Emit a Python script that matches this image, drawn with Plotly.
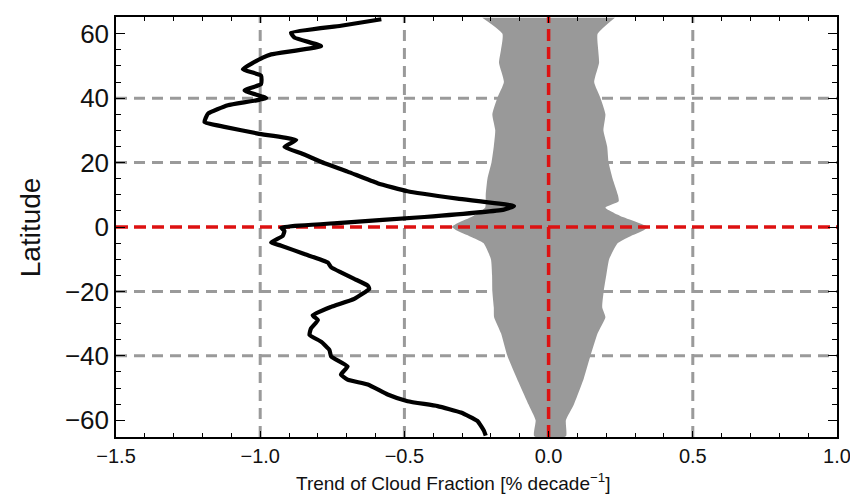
import plotly.graph_objects as go

# Black trend profile: latitude vs trend (% per decade)
trend_lat = [64.5, 62.5, 60.3, 58.8, 56.2, 53.6, 52.6, 49.0, 47.0, 44.4, 42.4, 40.0, 37.8, 35.2,
             32.6, 31.1, 29.0, 27.0, 24.9, 22.9, 19.8, 17.2, 13.6, 11.1, 8.8, 6.5, 5.4, 3.1, 1.3,
             -0.2, -1.2, -2.8, -4.8, -5.8, -8.4, -11.0, -12.5, -14.1, -16.1, -18.2, -19.2, -22.3,
             -24.8, -27.4, -28.9, -31.5, -33.5, -35.6, -38.2, -40.2, -43.3, -45.8, -47.4, -48.9,
             -52.0, -54.1, -55.6, -57.6, -60.2, -63.3, -64.8]
trend_val = [-0.58, -0.72, -0.893, -0.881, -0.789, -0.962, -0.991, -1.060, -0.997, -0.997, -1.054,
             -0.979, -1.112, -1.181, -1.193, -1.124, -1.008, -0.875, -0.916, -0.858, -0.777, -0.697,
             -0.593, -0.489, -0.316, -0.120, -0.155, -0.431, -0.720, -0.927, -0.916, -0.922, -0.962,
             -0.927, -0.847, -0.766, -0.754, -0.720, -0.674, -0.627, -0.622, -0.674, -0.754, -0.818,
             -0.800, -0.824, -0.829, -0.789, -0.760, -0.754, -0.697, -0.720, -0.697, -0.627, -0.558,
             -0.489, -0.385, -0.304, -0.247, -0.224, -0.218]

# Grey significance envelope
env_lat = [65, 60, 55, 51, 45, 40, 35, 30, 25, 20, 15, 10, 8, 6, 3, 1, 0, -1, -3, -5, -10, -15,
           -20, -25, -28, -33, -40, -47, -55, -60, -65]
env_low = [-0.23, -0.16, -0.165, -0.172, -0.155, -0.178, -0.195, -0.185, -0.19, -0.198, -0.212,
           -0.218, -0.218, -0.22, -0.27, -0.32, -0.335, -0.32, -0.27, -0.226, -0.2, -0.196,
           -0.195, -0.19, -0.189, -0.165, -0.143, -0.11, -0.07, -0.045, -0.05]
env_high = [0.23, 0.17, 0.172, 0.175, 0.158, 0.18, 0.197, 0.19, 0.203, 0.208, 0.222, 0.24, 0.243,
            0.197, 0.26, 0.32, 0.345, 0.33, 0.28, 0.24, 0.21, 0.2, 0.191, 0.186, 0.197, 0.17,
            0.145, 0.122, 0.088, 0.06, 0.06]

x_range = [-1.5, 1.0]
y_range = [-65.2, 65.2]
x_ticks = [-1.5, -1.0, -0.5, 0.0, 0.5, 1.0]
x_ticklabels = ["−1.5", "−1.0", "−0.5", "0.0", "0.5", "1.0"]
y_ticks = [-60, -40, -20, 0, 20, 40, 60]
x_grid = [-1.0, -0.5, 0.5]
y_grid = [-40, -20, 20, 40]

FONT = "Liberation Sans, Arial, Helvetica, sans-serif"
GRID = "#9a9a9a"
RED = "#dd1111"

fig = go.Figure()

fig.add_trace(go.Scatter(
    x=env_low + env_high[::-1], y=env_lat + env_lat[::-1],
    fill="toself", fillcolor="#999999", mode="lines",
    line=dict(width=0, color="#999999", shape="spline", smoothing=0.5),
    hoverinfo="skip", showlegend=False))

fig.add_trace(go.Scatter(x=x_range, y=[0, 0], mode="lines",
                         line=dict(color=RED, width=3.5, dash="12px,6px"), showlegend=False))
fig.add_trace(go.Scatter(x=[0, 0], y=y_range, mode="lines",
                         line=dict(color=RED, width=3.5, dash="12px,6px"), showlegend=False))

fig.add_trace(go.Scatter(x=trend_val, y=trend_lat, mode="lines",
                         line=dict(color="black", width=4.2, shape="spline", smoothing=0.4),
                         showlegend=False))

shapes = []
for gx in x_grid:
    shapes.append(dict(type="line", xref="x", yref="paper", x0=gx, x1=gx, y0=0, y1=1,
                       layer="below", line=dict(color=GRID, width=3, dash="11px,7px")))
for gy in y_grid:
    shapes.append(dict(type="line", xref="paper", yref="y", x0=0, x1=1, y0=gy, y1=gy,
                       layer="below", line=dict(color=GRID, width=3, dash="11px,7px")))

fig.update_layout(
    width=850, height=490,
    margin=dict(l=108, r=20, t=7, b=61),
    plot_bgcolor="white", paper_bgcolor="white",
    font=dict(family=FONT, color="#111111"),
    shapes=shapes,
    showlegend=False,
    annotations=[
        dict(text="Trend of Cloud Fraction [% decade<sup>−1</sup>]", xref="paper", yref="paper",
             x=0.468, y=-0.107, xanchor="center", yanchor="middle", showarrow=False,
             font=dict(size=19, family=FONT, color="#111111")),
        dict(text="Latitude", xref="paper", yref="paper", x=-0.119, y=0.5, textangle=-90,
             xanchor="center", yanchor="middle", showarrow=False,
             font=dict(size=28, family=FONT, color="#111111")),
    ],
)

fig.update_xaxes(
    range=x_range, tickvals=x_ticks, ticktext=x_ticklabels,
    showgrid=False, zeroline=False,
    showline=True, linecolor="black", linewidth=1.5, mirror="allticks",
    ticks="inside", ticklen=6, tickwidth=1.2, tickcolor="black",
    tickfont=dict(size=20, family=FONT, color="#111111"),
    minor=dict(dtick=0.1, ticks="inside", ticklen=4, tickwidth=1.2, tickcolor="black", showgrid=False),
)
fig.update_yaxes(
    range=y_range, tickvals=y_ticks,
    showgrid=False, zeroline=False,
    showline=True, linecolor="black", linewidth=1.5, mirror="allticks",
    ticks="inside", ticklen=9, tickwidth=1.2, tickcolor="black",
    tickfont=dict(size=26, family=FONT, color="#111111"),
    minor=dict(dtick=5, ticks="inside", ticklen=5, tickwidth=1.2, tickcolor="black", showgrid=False),
)

fig.write_html("out.html")
